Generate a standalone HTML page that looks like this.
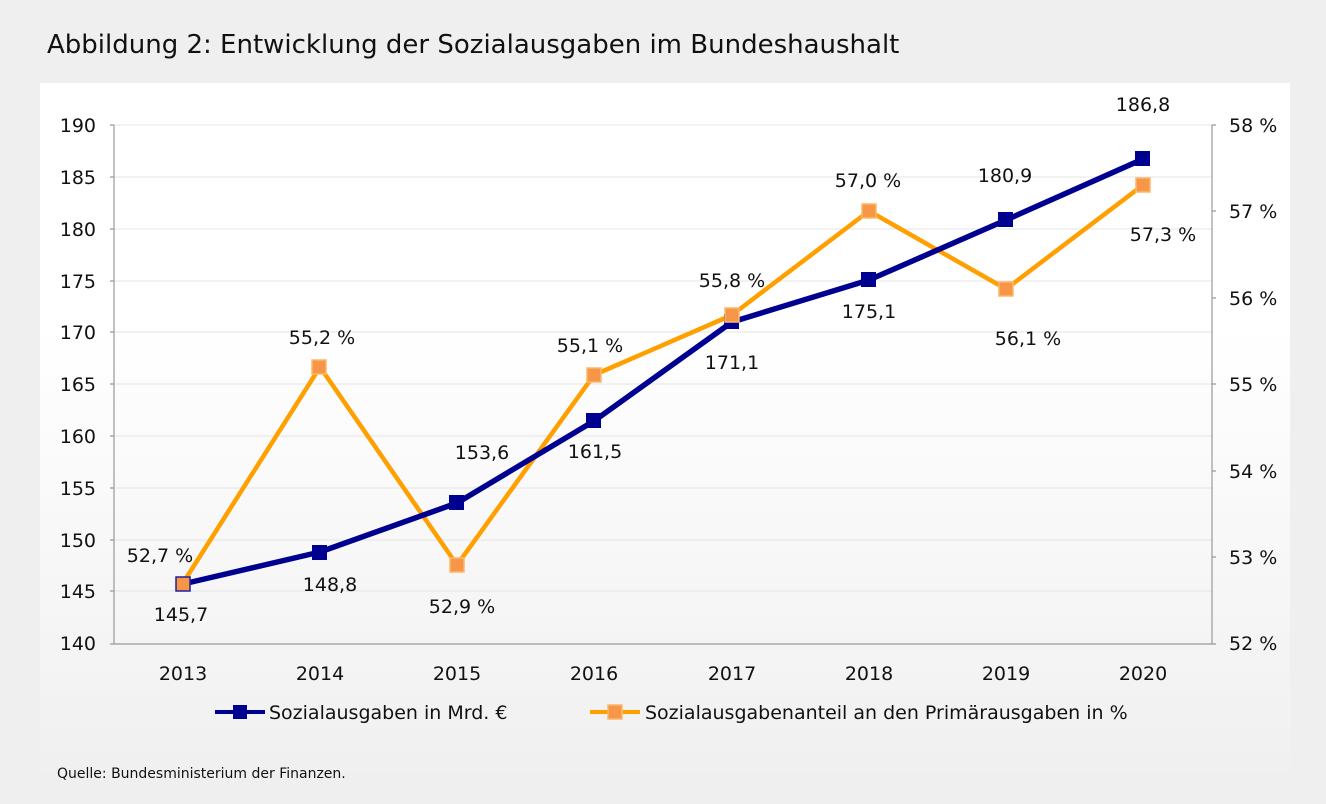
<!DOCTYPE html>
<html><head><meta charset="utf-8"><style>
body{margin:0;background:#efefef;font-family:"DejaVu Sans","Liberation Sans",sans-serif;}
</style></head><body>
<svg width="1326" height="800" xmlns="http://www.w3.org/2000/svg" font-family="DejaVu Sans, Liberation Sans, sans-serif">
<defs><linearGradient id="g" x1="0" y1="0" x2="0" y2="1"><stop offset="0" stop-color="#ffffff"/><stop offset="0.35" stop-color="#ffffff"/><stop offset="1" stop-color="#f0f0f0"/></linearGradient></defs>
<rect width="1326" height="800" fill="#efefef"/>
<text x="47" y="53" font-size="26" fill="#111">Abbildung 2:  Entwicklung der Sozialausgaben im Bundeshaushalt</text>
<rect x="40" y="83" width="1250" height="690" fill="url(#g)"/>
<g stroke="#e4e4e4" stroke-width="1">
<line x1="114" x2="1212" y1="125" y2="125"/><line x1="114" x2="1212" y1="177" y2="177"/><line x1="114" x2="1212" y1="229" y2="229"/><line x1="114" x2="1212" y1="281" y2="281"/><line x1="114" x2="1212" y1="332" y2="332"/><line x1="114" x2="1212" y1="384" y2="384"/><line x1="114" x2="1212" y1="436" y2="436"/><line x1="114" x2="1212" y1="488" y2="488"/><line x1="114" x2="1212" y1="540" y2="540"/><line x1="114" x2="1212" y1="591" y2="591"/>
</g>
<g stroke="#999" stroke-width="1.2" fill="none">
<line x1="114" y1="125" x2="114" y2="644"/><line x1="1212" y1="125" x2="1212" y2="644"/><line x1="110" y1="644" x2="1216" y2="644"/>
<path d="M110 125h4M110 177h4M110 229h4M110 281h4M110 332h4M110 384h4M110 436h4M110 488h4M110 540h4M110 591h4"/>
<path d="M1212 125h4M1212 211h4M1212 298h4M1212 384h4M1212 471h4M1212 557h4"/>
</g>
<g font-size="19" fill="#111" text-anchor="end">
<text x="96" y="132">190</text><text x="96" y="184">185</text><text x="96" y="236">180</text><text x="96" y="288">175</text><text x="96" y="339">170</text><text x="96" y="391">165</text><text x="96" y="443">160</text><text x="96" y="495">155</text><text x="96" y="547">150</text><text x="96" y="598">145</text><text x="96" y="650">140</text>
</g>
<g font-size="19" fill="#111">
<text x="1229" y="132">58 %</text><text x="1229" y="218">57 %</text><text x="1229" y="305">56 %</text><text x="1229" y="391">55 %</text><text x="1229" y="478">54 %</text><text x="1229" y="564">53 %</text><text x="1229" y="650">52 %</text>
</g>
<g font-size="19" fill="#111" text-anchor="middle">
<text x="183" y="680">2013</text><text x="320" y="680">2014</text><text x="457" y="680">2015</text><text x="594" y="680">2016</text><text x="732" y="680">2017</text><text x="869" y="680">2018</text><text x="1006" y="680">2019</text><text x="1143" y="680">2020</text>
</g>
<polyline points="183,583 320,367 457,565 594,375 732,315 869,211 1006,289 1143,185" fill="none" stroke="#ffa000" stroke-width="4.5" stroke-linejoin="round"/>
<polyline points="183,584 320,552 457,503 594,421 732,322 869,280 1006,220 1143,159" fill="none" stroke="#000090" stroke-width="5.5" stroke-linejoin="round"/>
<g fill="#000090">
<rect x="312" y="545" width="15" height="15"/><rect x="449" y="495" width="15" height="15"/><rect x="586" y="413" width="15" height="15"/><rect x="724" y="314" width="15" height="15"/><rect x="861" y="272" width="15" height="15"/><rect x="998" y="212" width="15" height="15"/><rect x="1135" y="151" width="15" height="15"/>
</g>
<g fill="#f79646" stroke="#fbb86a" stroke-width="1.5">
<rect x="312" y="360" width="14" height="14"/><rect x="450" y="558" width="14" height="14"/><rect x="587" y="368" width="14" height="14"/><rect x="725" y="308" width="14" height="14"/><rect x="862" y="204" width="14" height="14"/><rect x="999" y="282" width="14" height="14"/><rect x="1136" y="178" width="14" height="14"/>
</g>
<rect x="176" y="577" width="14" height="14" fill="#f79646" stroke="#2020a0" stroke-width="1.5"/>
<g font-size="19" fill="#111" text-anchor="middle">
<text x="181" y="621">145,7</text><text x="330" y="591">148,8</text><text x="482" y="459">153,6</text><text x="595" y="458">161,5</text><text x="732" y="369">171,1</text><text x="869" y="318">175,1</text><text x="1005" y="182">180,9</text><text x="1143" y="111">186,8</text>
<text x="160" y="562">52,7 %</text><text x="322" y="344">55,2 %</text><text x="462" y="613">52,9 %</text><text x="590" y="352">55,1 %</text><text x="732" y="287">55,8 %</text><text x="868" y="187">57,0 %</text><text x="1028" y="345">56,1 %</text><text x="1163" y="241">57,3 %</text>
</g>
<line x1="215" y1="712" x2="265" y2="712" stroke="#000090" stroke-width="4"/><rect x="233" y="705" width="14" height="14" fill="#000090"/>
<text x="269" y="719" font-size="19" fill="#111">Sozialausgaben in Mrd. €</text>
<line x1="590" y1="712" x2="640" y2="712" stroke="#ffa000" stroke-width="4"/><rect x="608" y="705" width="14" height="14" fill="#f79646" stroke="#fbb86a" stroke-width="1.5"/>
<text x="645" y="719" font-size="19" fill="#111">Sozialausgabenanteil an den Primärausgaben in %</text>
<text x="57" y="778" font-size="14" fill="#111">Quelle: Bundesministerium der Finanzen.</text>
</svg>
</body></html>
